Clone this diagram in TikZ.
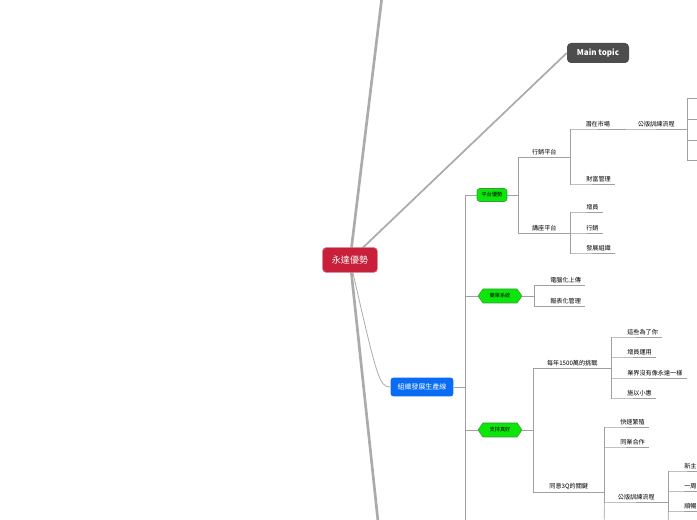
\documentclass[tikz,border=0pt]{standalone}
\usepackage{fontspec}
\setmainfont{Noto Sans CJK TC}
\usetikzlibrary{shapes.symbols,positioning}

\definecolor{rootred}{HTML}{C8203A}
\definecolor{topicgray}{HTML}{4D4D4D}
\definecolor{orgblue}{HTML}{0A6CF5}
\definecolor{subgreen}{HTML}{0BE60B}
\definecolor{subgreenline}{HTML}{3A9A3A}
\definecolor{branchgray}{HTML}{ABABAB}
\definecolor{linegray}{HTML}{A0A0A0}

\newcommand{\leaffont}{\fontsize{4.6}{5}\selectfont}

\begin{document}
\begin{tikzpicture}[x=0.75pt,y=-0.75pt,
  rootbox/.style={draw=rootred!60!white, fill=rootred, rounded corners=2.5pt, text=white, minimum width=41pt, minimum height=18.5pt, font=\fontsize{6.8}{8}\selectfont},
  topicbox/.style={fill=topicgray, rounded corners=3pt, text=white, minimum width=46.5pt, minimum height=15pt, font=\fontsize{6}{7}\selectfont\bfseries},
  orgbox/.style={fill=orgblue, rounded corners=2pt, text=white, minimum width=47pt, minimum height=14pt, font=\fontsize{5.2}{6}\selectfont},
  greenbox/.style={draw=subgreenline, fill=subgreen, rounded corners=2pt, minimum width=22.5pt, minimum height=9.75pt, inner sep=1pt, font=\fontsize{3.9}{4.5}\selectfont},
  greenhex/.style={draw=subgreenline, fill=subgreen, signal, signal to=east and west, signal pointer angle=110, minimum width=33pt, minimum height=10.5pt, inner sep=1pt, font=\fontsize{3.9}{4.5}\selectfont},
  midtopic/.style={anchor=south west, inner xsep=0pt, inner ysep=1.6pt, font=\leaffont},
  leaf/.style={anchor=south west, inner xsep=0pt, inner ysep=1.6pt, font=\leaffont, execute at begin node={\hspace*{12pt}}, execute at end node={\hspace*{3pt}}},
  conn/.style={draw=linegray, line width=0.5pt},
  bigbranch/.style={draw=branchgray, line width=2pt},
  midbranch/.style={draw=branchgray, line width=1.3pt},
  thinbranch/.style={draw=branchgray, line width=0.6pt}]

\useasboundingbox (0,0) rectangle (697,520);

% Main topics
\node (maintopic) [topicbox] at (598,53) {Main topic};
\node (org) [orgbox] at (422,387) {組織發展生產線};

% Branches from the centre
\coordinate (rootc) at (350,260);
\coordinate (upend) at (384,-20);
\coordinate (downend) at (380,540);
\draw[bigbranch] (rootc) -- (upend);
\draw[bigbranch] (rootc) -- (downend);
\draw[midbranch] (rootc) -- (maintopic.west);
\draw[thinbranch] (rootc) .. controls (377,378) and (379,387) .. (org.west);
\node (root) [rootbox] at (rootc) {永達優勢};

% Subtopics
\node (pingtai) [greenbox] at (492,195) {平台優勢};
\node (jiandan) [greenhex] at (500,296) {簡單系統};
\node (zhichi) [greenhex] at (500,430) {支持真好};

\coordinate (orgtrunk) at (465,387);
\coordinate (orgend) at (465,530);
\draw[conn] (org.east) -- (orgtrunk);
\draw[conn] (orgtrunk) |- (pingtai.west);
\draw[conn] (orgtrunk) |- (jiandan.west);
\draw[conn] (orgtrunk) |- (zhichi.west);
\draw[conn] (orgtrunk) -- (orgend);

% Platform
\node (xingxiao) [midtopic, minimum width=39pt] at (518,157) {行銷平台};
\node (qianzai) [midtopic, minimum width=41.25pt] at (570,129) {潛在市場};
\node (gongban) [midtopic, minimum width=46.5pt] at (625,129) {公版訓練流程};
\node (caifu) [leaf] at (570,184) {財富管理};
\node (jiangzuo) [midtopic, minimum width=39pt] at (518,233) {講座平台};
\node (zengyuan) [leaf] at (570,212) {增員};
\node (xingxiaob) [leaf] at (570,233) {行銷};
\node (fazhan) [leaf] at (570,253) {發展組織};

\coordinate (gbend1) at (705,98);
\coordinate (gbend2) at (705,119);
\coordinate (gbend3) at (705,140);
\coordinate (gbend4) at (705,160);

\draw[conn] (pingtai.east) -| (xingxiao.south west) -- (xingxiao.south east);
\draw[conn] (pingtai.east) -| (jiangzuo.south west) -- (jiangzuo.south east);
\draw[conn] (xingxiao.south east) |- (qianzai.south west) -- (qianzai.south east);
\draw[conn] (xingxiao.south east) |- (caifu.south west) -- (caifu.south east);
\draw[conn] (qianzai.south east) -- (gongban.south west) -- (gongban.south east);
\draw[conn] (gongban.south east) |- (gbend1);
\draw[conn] (gongban.south east) |- (gbend2);
\draw[conn] (gongban.south east) |- (gbend3);
\draw[conn] (gongban.south east) |- (gbend4);
\draw[conn] (jiangzuo.south east) |- (zengyuan.south west) -- (zengyuan.south east);
\draw[conn] (jiangzuo.south east) -- (xingxiaob.south west) -- (xingxiaob.south east);
\draw[conn] (jiangzuo.south east) |- (fazhan.south west) -- (fazhan.south east);

% Simple system
\node (diannao) [leaf] at (534,285) {電腦化上傳};
\node (baobiao) [leaf] at (534,306) {報表化管理};
\draw[conn] (jiandan.east) -| (diannao.south west) -- (diannao.south east);
\draw[conn] (jiandan.east) -| (baobiao.south west) -- (baobiao.south east);

% Support
\node (meinian) [midtopic, minimum width=58.5pt] at (533,368) {每年1500萬的挑戰};
\node (zhexie) [leaf] at (611,337) {這些為了你};
\node (zengyong) [leaf] at (611,357) {增員運用};
\node (yejie) [leaf] at (611,378) {業界沒有像永達一樣};
\node (shiyi) [leaf] at (611,398) {施以小惠};
\node (tongyi) [midtopic, minimum width=53.25pt] at (533,492) {同意3Q的關鍵};
\node (kuaisu) [leaf] at (604,427) {快速繁殖};
\node (tongye) [leaf] at (604,447) {同業合作};
\node (gongbanb) [midtopic, minimum width=48pt] at (604,502) {公版訓練流程};
\node (xinzhu) [leaf] at (668,471) {新主管};
\node (yizhou) [leaf] at (668,491) {一周};
\node (shunchang) [leaf] at (668,511) {順暢};

\coordinate (tyend) at (604,530);
\coordinate (gbbend) at (668,530);

\draw[conn] (zhichi.east) -| (meinian.south west) -- (meinian.south east);
\draw[conn] (zhichi.east) -| (tongyi.south west) -- (tongyi.south east);
\draw[conn] (meinian.south east) |- (zhexie.south west) -- (zhexie.south east);
\draw[conn] (meinian.south east) |- (zengyong.south west) -- (zengyong.south east);
\draw[conn] (meinian.south east) |- (yejie.south west) -- (yejie.south east);
\draw[conn] (meinian.south east) |- (shiyi.south west) -- (shiyi.south east);
\draw[conn] (tongyi.south east) |- (kuaisu.south west) -- (kuaisu.south east);
\draw[conn] (tongyi.south east) |- (tongye.south west) -- (tongye.south east);
\draw[conn] (tongyi.south east) |- (gongbanb.south west) -- (gongbanb.south east);
\draw[conn] (tongyi.south east) -- (tyend);
\draw[conn] (gongbanb.south east) |- (xinzhu.south west) -- (xinzhu.south east);
\draw[conn] (gongbanb.south east) |- (yizhou.south west) -- (yizhou.south east);
\draw[conn] (gongbanb.south east) |- (shunchang.south west) -- (shunchang.south east);
\draw[conn] (gongbanb.south east) -- (gbbend);

\end{tikzpicture}
\end{document}
